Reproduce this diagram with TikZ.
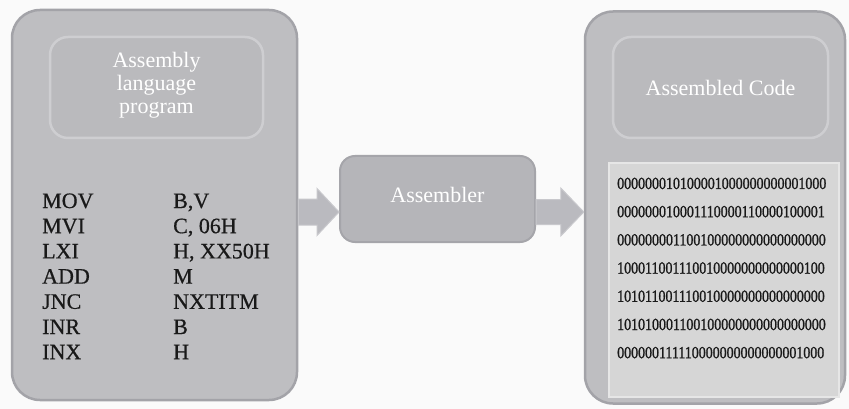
\documentclass[tikz,border=0pt]{standalone}
\usepackage{fontspec}
\setmainfont{Liberation Serif}
\newfontfamily\heavyserif[FakeBold=1.2]{Liberation Serif}
\newfontfamily\codeserif[FakeBold=0.6]{Liberation Serif}
\definecolor{bgc}{RGB}{250,250,250}
\definecolor{outerfill}{RGB}{190,190,193}
\definecolor{outerdraw}{RGB}{163,163,168}
\definecolor{innerfill}{RGB}{186,186,189}
\definecolor{innerdraw}{RGB}{206,206,209}
\definecolor{asmfill}{RGB}{181,181,185}
\definecolor{asmdraw}{RGB}{165,165,170}
\definecolor{arrowfill}{RGB}{186,186,191}
\definecolor{arrowdraw}{RGB}{200,200,204}
\definecolor{binfill}{RGB}{214,214,214}
\definecolor{bindraw}{RGB}{230,230,230}
\definecolor{codec}{RGB}{25,25,25}
\tikzset{
  outerbox/.style={draw=outerdraw, line width=2.5pt, fill=outerfill, rounded corners=28pt, inner sep=0pt},
  titlebox/.style={draw=innerdraw, line width=2.5pt, fill=innerfill, rounded corners=18pt, inner sep=0pt},
  asmbox/.style={draw=asmdraw, line width=2pt, fill=asmfill, rounded corners=15pt, inner sep=0pt},
  binbox/.style={draw=bindraw, line width=1.5pt, fill=binfill, inner sep=0pt},
  blockarrow/.style={draw=arrowdraw, line width=1pt, fill=arrowfill},
  titletext/.style={text=white, font=\fontsize{22}{23}\selectfont, align=center, inner sep=0pt},
  codetext/.style={text=codec, font=\codeserif\fontsize{22}{25}\selectfont, inner sep=0pt, anchor=base west},
  bintext/.style={text=codec, font=\heavyserif\fontsize{17}{17}\selectfont, inner sep=0pt, anchor=base west}
}
\begin{document}
\begin{tikzpicture}[x=1pt,y=-1pt]
\useasboundingbox (0,0) rectangle (849,409);
\fill[bgc] (0,0) rectangle (849,409);
% left big box
\node[outerbox, minimum width=285pt, minimum height=390pt] (left) at (154.5,205) {};
\node[titlebox, minimum width=213pt, minimum height=101pt] (ltitle) at (156.5,87.5) {};
\node[titletext] (ltext) at (156.5,85) {Assembly\\language\\program};
% code lines
\foreach \op/\arg [count=\i from 0] in {MOV/{B,V}, MVI/{C, 06H}, LXI/{H, XX50H}, ADD/M, JNC/NXTITM, INR/B, INX/H}{
  \node[codetext] (op\i) at (42,{208+25.2*\i}) {\op};
  \node[codetext] (arg\i) at (173,{208+25.2*\i}) {\arg};
}
% assembler
\node[asmbox, minimum width=195pt, minimum height=86pt] (asm) at (437.5,199) {};
\node[titletext] (asmtext) at (437.5,195) {Assembler};
% right big box
\node[outerbox, minimum width=260pt, minimum height=392pt] (right) at (715,207.5) {};
\node[titlebox, minimum width=215pt, minimum height=101pt] (rtitle) at (720.5,87.5) {};
\node[titletext] (rtext) at (720.5,88) {Assembled Code};
\node[binbox, minimum width=230pt, minimum height=234pt] (bin) at (724,280) {};
\foreach \b [count=\i from 0] in {000000010100001000000000001000,000000010001110000110000100001,000000001100100000000000000000,100011001110010000000000000100,101011001110010000000000000000,101010001100100000000000000000,000000111110000000000000001000}{
  \node[bintext] (bin\i) at (617,{189+28.2*\i}) {\scalebox{0.82}[1]{\b}};
}
% arrows
\coordinate (a1s) at (left.east |- 0,212);
\coordinate (a1t) at (asm.west |- 0,212);
\draw[blockarrow] ([yshift=-13pt]a1s) -- ([xshift=-22pt,yshift=-13pt]a1t) -- ([xshift=-22pt,yshift=-23.5pt]a1t) -- (a1t) -- ([xshift=-22pt,yshift=23.5pt]a1t) -- ([xshift=-22pt,yshift=13pt]a1t) -- ([yshift=13pt]a1s) -- cycle;
\coordinate (a2s) at (asm.east |- 0,212);
\coordinate (a2t) at (right.west |- 0,212);
\draw[blockarrow] ([yshift=-12.5pt]a2s) -- ([xshift=-23pt,yshift=-12.5pt]a2t) -- ([xshift=-23pt,yshift=-24pt]a2t) -- (a2t) -- ([xshift=-23pt,yshift=24pt]a2t) -- ([xshift=-23pt,yshift=12.5pt]a2t) -- ([yshift=12.5pt]a2s) -- cycle;
\end{tikzpicture}
\end{document}
